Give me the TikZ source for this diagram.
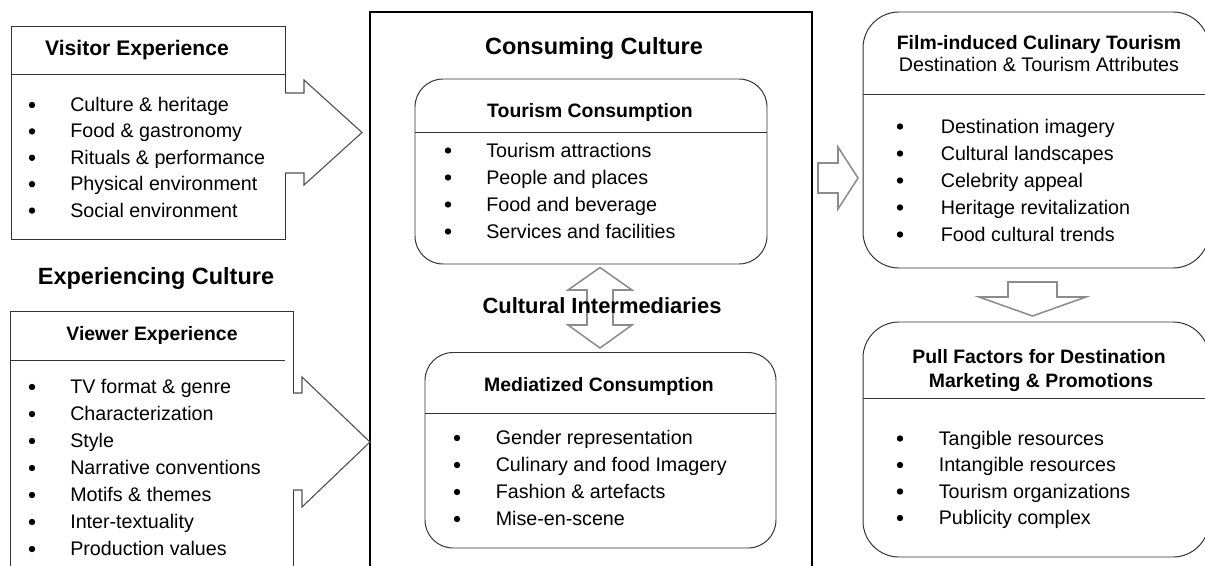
\documentclass[tikz,border=0pt]{standalone}
\usepackage{fontspec}
\setmainfont{Liberation Sans}
\usetikzlibrary{positioning}
\colorlet{boxline}{black!80}
\colorlet{darkarrow}{black!68}
\colorlet{grayarrow}{black!45}
\tikzset{
  thinbox/.style={draw=boxline,fill=white,line width=.6pt},
  roundbox/.style={draw=boxline,fill=white,line width=.7pt,rounded corners=.7cm},
  bigarrow/.style={draw=darkarrow,line width=.8pt,line join=miter},
  grayblock/.style={draw=grayarrow,fill=white,line width=1.1pt,line join=miter},
  itm/.style={anchor=base west,inner sep=0pt,font=\fontsize{14}{16}\selectfont},
  bul/.style={circle,fill=black,inner sep=0pt,minimum size=.16cm},
  hdr/.style={anchor=base,inner sep=0pt,font=\fontsize{13.8}{16}\selectfont\bfseries},
  sub/.style={anchor=base,inner sep=0pt,font=\fontsize{14}{16}\selectfont},
  ttl/.style={anchor=base,inner sep=0pt,font=\fontsize{16.7}{20}\selectfont\bfseries}
}
\begin{document}
\begin{tikzpicture}[x=0.025cm,y=-0.025cm]%
        \useasboundingbox (0,0) rectangle (1205,566);%%
        \clip (0,0) rectangle (1205,566);%%
        % left boxes
        \filldraw[thinbox] (11,26) rectangle (285,239);%%
        \draw[thinbox] (11,74) -- (285,74);%%
        \filldraw[thinbox] (10,311) rectangle (293,590);%%
        \draw[thinbox] (10,360) -- (285,360);%%
        % centre frame
        \draw[line width=1.3pt] (370,12) rectangle (812,590);%%
        % big arrows into the frame
        \fill[white] (283,93) -- (304,93) -- (304,80) -- (362,132.5) -- (304,185) -- (304,173) -- (283,173) -- cycle;%%
        \draw[bigarrow] (285,93) -- (304,93) -- (304,80) -- (362,132.5) -- (304,185) -- (304,173) -- (285,173);%%
        \fill[white] (291,393) -- (302,393) -- (302,377) -- (370,442) -- (302,507) -- (302,490) -- (291,490) -- cycle;%%
        \draw[bigarrow] (293,393) -- (302,393) -- (302,377) -- (370,442) -- (302,507) -- (302,490) -- (293,490);%%
        % rounded boxes
        \draw[roundbox] (415,79) rectangle (767,264);%%
        \draw[boxline,line width=.7pt] (415,132) -- (767,132);%%
        \draw[roundbox] (425,352.5) rectangle (776,548);%%
        \draw[boxline,line width=.7pt] (425,413) -- (776,413);%%
        \draw[roundbox,rounded corners=.9cm] (863,12) rectangle (1209,268);%%
        \draw[boxline,line width=.7pt] (863,94) -- (1209,94);%%
        \draw[roundbox,rounded corners=.9cm] (863,322) rectangle (1209,557);%%
        \draw[boxline,line width=.7pt] (863,398) -- (1209,398);%%
        % gray block arrows
        \draw[grayblock] (600,267.5) -- (632,290) -- (613,290) -- (613,325) -- (632,325) -- (600,348) -- (568,325) -- (587,325) -- (587,290) -- (568,290) -- cycle;%%
        \draw[grayblock] (818,163) -- (838,163) -- (838,147) -- (858,178) -- (838,209) -- (838,193) -- (818,193) -- cycle;%%
        \draw[grayblock] (1008,282) -- (1057,282) -- (1057,297) -- (1086,297) -- (1032.5,316) -- (979,297) -- (1008,297) -- cycle;%%
        % titles
        \node[ttl] (expc) at (156,284) {Experiencing Culture};%%
        \node[ttl] (conc) at (594,54.5) {Consuming Culture};%%
        \node[ttl,font=\fontsize{15.6}{20}\selectfont\bfseries] (intm) at (602,313) {Cultural Intermediaries};%%
        % visitor experience
        \node[hdr,font=\fontsize{15}{18}\selectfont\bfseries] (visT) at (137,55) {Visitor Experience};%%
        \foreach \t [count=\i] in {Culture \& heritage,Food \& gastronomy,Rituals \& performance,Physical environment,Social environment}{
          \node[bul] (visb\i) at (32,{105+26.4*(\i-1)}) {};
          \node[itm] (vis\i) at (70,{111.5+26.4*(\i-1)}) {\t};
        }
        % viewer experience
        \node[hdr] (vieT) at (152,340) {Viewer Experience};%%
        \foreach \t [count=\i] in {TV format \& genre,Characterization,Style,Narrative conventions,Motifs \& themes,Inter-textuality,Production values}{
          \node[bul] (vieb\i) at (32,{387+27*(\i-1)}) {};
          \node[itm] (vie\i) at (70,{393.5+27*(\i-1)}) {\t};
        }
        % tourism consumption
        \node[hdr] (touT) at (590,117) {Tourism Consumption};%%
        \foreach \t [count=\i] in {Tourism attractions,People and places,Food and beverage,Services and facilities}{
          \node[bul] (toub\i) at (448,{150.5+27*(\i-1)}) {};
          \node[itm] (tou\i) at (486,{157+27*(\i-1)}) {\t};
        }
        % mediatized consumption
        \node[hdr] (medT) at (599,391) {Mediatized Consumption};%%
        \foreach \t [count=\i] in {Gender representation,Culinary and food Imagery,Fashion \& artefacts,Mise-en-scene}{
          \node[bul] (medb\i) at (457,{438+27*(\i-1)}) {};
          \node[itm] (med\i) at (495.5,{444.5+27*(\i-1)}) {\t};
        }
        % film-induced culinary tourism
        \node[hdr] (filT) at (1039,49) {Film-induced Culinary Tourism};%%
        \node[sub] (filS) at (1039,71) {Destination \& Tourism Attributes};%%
        \foreach \t [count=\i] in {Destination imagery,Cultural landscapes,Celebrity appeal,Heritage revitalization,Food cultural trends}{
          \node[bul] (filb\i) at (900,{126.5+27*(\i-1)}) {};
          \node[itm] (fil\i) at (940.5,{133+27*(\i-1)}) {\t};
        }
        % pull factors
        \node[hdr] (pulT) at (1039,363) {Pull Factors for Destination};%%
        \node[hdr] (pulS) at (1041,387) {Marketing \& Promotions};%%
        \foreach \t [count=\i] in {Tangible resources,Intangible resources,Tourism organizations,Publicity complex}{
          \node[bul] (pulb\i) at (900,{438.5+26.5*(\i-1)}) {};
          \node[itm] (pul\i) at (938.5,{445+26.5*(\i-1)}) {\t};
        }
\end{tikzpicture}
\end{document}
